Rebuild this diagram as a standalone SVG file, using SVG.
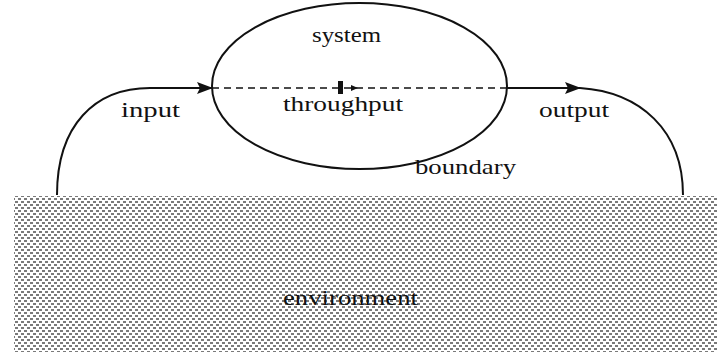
<svg xmlns="http://www.w3.org/2000/svg" width="717" height="352" viewBox="0 0 717 352">
<style>
.t{font-family:"Liberation Serif","DejaVu Serif",serif;font-size:22px;fill:#111;}
.ln{fill:none;stroke:#111;stroke-width:2;}
</style>
<defs>
<pattern id="dots" width="6" height="6" patternUnits="userSpaceOnUse">
<rect width="6" height="6" fill="#fff"/>
<rect x="0" y="0" width="3" height="2" fill="#7a7a7a"/>
<rect x="3" y="3" width="3" height="2" fill="#7a7a7a"/>
</pattern>
<marker id="arr" markerWidth="16" markerHeight="12" refX="15" refY="6" orient="auto" markerUnits="userSpaceOnUse">
<path d="M0,0 L16,6 L0,12 L3,6 Z" fill="#111"/>
</marker>
</defs>
<g id="environment">
<rect x="14" y="196" width="703" height="156" fill="url(#dots)"/>
<text class="t" x="283" y="305" textLength="135" lengthAdjust="spacingAndGlyphs">environment</text>
</g>
<g id="system">
<ellipse cx="359.5" cy="86" rx="147.5" ry="83" class="ln"/>
<text class="t" x="312" y="42" textLength="69" lengthAdjust="spacingAndGlyphs">system</text>
<text class="t" x="283" y="111" textLength="120" lengthAdjust="spacingAndGlyphs">throughput</text>
<text class="t" x="415" y="174" textLength="101" lengthAdjust="spacingAndGlyphs">boundary</text>
</g>
<g id="connectors">
<path class="ln" d="M57,195 C57,125 95,88 150,88 L212,88" marker-end="url(#arr)"/>
<text class="t" x="121" y="117" textLength="59" lengthAdjust="spacingAndGlyphs">input</text>
<line x1="212" y1="88" x2="507" y2="88" stroke="#111" stroke-width="1.6" stroke-dasharray="7,5"/>
<rect x="338" y="81" width="5" height="13" fill="#111"/>
<path d="M351,85 L358,88 L351,91 Z" fill="#111"/>
<path class="ln" d="M507,88 L580,88" marker-end="url(#arr)"/>
<path class="ln" d="M580,88 C640,92 683,130 683,195"/>
<text class="t" x="539" y="117" textLength="70" lengthAdjust="spacingAndGlyphs">output</text>
</g>
</svg>
